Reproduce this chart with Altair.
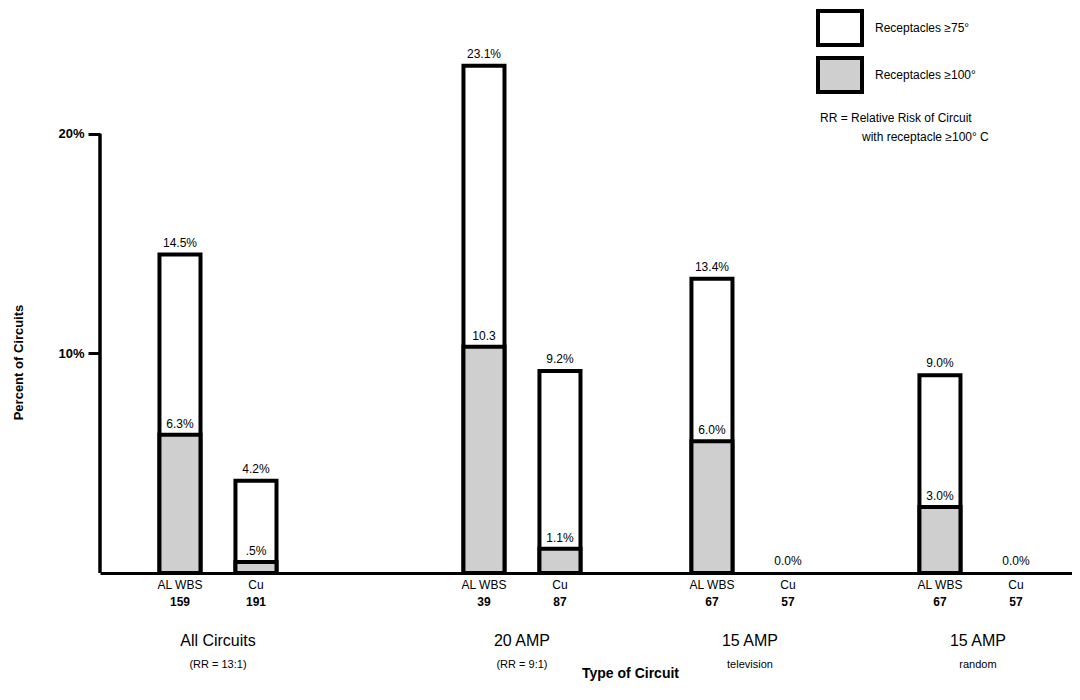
import altair as alt
import pandas as pd

# ---------------- data ----------------
groups = ["All Circuits", "All Circuits", "20 AMP", "20 AMP",
          "15 AMP television", "15 AMP television", "15 AMP random", "15 AMP random"]
conductors = ["AL WBS", "Cu", "AL WBS", "Cu", "AL WBS", "Cu", "AL WBS", "Cu"]
counts = ["159", "191", "39", "87", "67", "57", "67", "57"]
pct_75 = [14.5, 4.2, 23.1, 9.2, 13.4, 0.0, 9.0, 0.0]
pct_100 = [6.3, 0.5, 10.3, 1.1, 6.0, 0.0, 3.0, 0.0]
top_labels = ["14.5%", "4.2%", "23.1%", "9.2%", "13.4%", "0.0%", "9.0%", "0.0%"]
inner_labels = ["6.3%", ".5%", "10.3", "1.1%", "6.0%", "", "3.0%", ""]

group_keys = ["All Circuits", "20 AMP", "15 AMP television", "15 AMP random"]
group_names = ["All Circuits", "20 AMP", "15 AMP", "15 AMP"]
group_subs = ["(RR = 13:1)", "(RR = 9:1)", "television", "random"]

series_names = ["Receptacles \u226575\u00b0", "Receptacles \u2265100\u00b0"]
y_ticks = [10, 20]
y_axis_top = 20
rr_lines = ["RR = Relative Risk of Circuit", "with receptacle \u2265100\u00b0 C"]

# ---------------- tables ----------------
slots = [g + "|" + c for g, c in zip(groups, conductors)]
bar_df = pd.DataFrame({
    "slot": slots, "conductor": conductors, "count": counts,
    "pct75": pct_75, "pct100": pct_100,
    "top": top_labels, "inner": inner_labels,
})
long_rows = []
for s, a, b in zip(slots, pct_75, pct_100):
    long_rows.append({"slot": s, "series": series_names[0], "value": a, "ord": 0})
    long_rows.append({"slot": s, "series": series_names[1], "value": b, "ord": 1})
long_df = pd.DataFrame(long_rows)

group_df = pd.DataFrame({
    "slot": [k + "|AL WBS" for k in group_keys],
    "name": group_names, "sub": group_subs,
})
rule_df = pd.DataFrame({"lo": [0], "hi": [y_axis_top]})
rr_df = pd.DataFrame({"t": rr_lines})

# slot domain with empty spacer slots between groups (layout only)
slot_domain = [slots[0], slots[1], "_sp1", "_sp2", slots[2], slots[3], "_sp3",
               slots[4], slots[5], "_sp4", slots[6], slots[7]]

FONT = "Liberation Sans"

x_scale = alt.Scale(domain=slot_domain, paddingInner=0.46, paddingOuter=0.625, align=0.626)
y_scale = alt.Scale(domain=[0, 25], nice=False)

x_axis = alt.Axis(labels=False, ticks=False, domain=True, domainColor="black",
                  domainWidth=3, grid=False, title="Type of Circuit", titleX=530,
                  titleY=100, titleFontSize=14, titleFontWeight="bold",
                  titleBaseline="middle", titleColor="black", titleFont=FONT)
y_axis = alt.Axis(values=y_ticks, labelExpr="datum.value + '%'", tickSize=12,
                  tickWidth=3, tickColor="black", domain=False, grid=False,
                  labelFontSize=13, labelFontWeight="bold", labelColor="black",
                  labelPadding=4, labelFont=FONT,
                  title="Percent of Circuits", titleX=-82, titleY=338,
                  titleAngle=-90, titleBaseline="middle", titleFontSize=13,
                  titleFontWeight="bold", titleColor="black", titleFont=FONT)

X = alt.X("slot:N", scale=x_scale, axis=x_axis)

bars = alt.Chart(long_df).transform_filter("datum.value > 0").mark_bar(
    stroke="black", strokeWidth=4, strokeJoin="miter"
).encode(
    x=X,
    y=alt.Y("value:Q", scale=y_scale, axis=y_axis, stack=None),
    fill=alt.Fill("series:N", scale=alt.Scale(domain=series_names, range=["white", "#cfcfcf"]),
                  legend=alt.Legend(title=None, orient="none", legendX=718, legendY=-18,
                                    symbolType="M-1.1,-0.85H1.1V0.85H-1.1Z", symbolSize=1600,
                                    symbolStrokeColor="black", symbolStrokeWidth=4,
                                    labelFontSize=12, labelOffset=13, rowPadding=-5,
                                    padding=0, labelFont=FONT, labelColor="black",
                                    labelLimit=300)),
    order=alt.Order("ord:Q"),
)

txt = dict(font=FONT, color="black")

top_text = alt.Chart(bar_df).mark_text(baseline="bottom", dy=-5, fontSize=12, **txt).encode(
    x=X, y=alt.Y("pct75:Q", scale=y_scale), text="top:N")

inner_text = alt.Chart(bar_df).transform_filter("datum.inner != ''").mark_text(
    baseline="bottom", dy=-4, fontSize=12, **txt).encode(
    x=X, y=alt.Y("pct100:Q", scale=y_scale), text="inner:N")

cond_text = alt.Chart(bar_df).mark_text(baseline="top", dy=7, fontSize=12, **txt).encode(
    x=X, y=alt.datum(0), text="conductor:N")

count_text = alt.Chart(bar_df).mark_text(baseline="top", dy=24, fontSize=12,
                                         fontWeight="bold", **txt).encode(
    x=X, y=alt.datum(0), text="count:N")

group_text = alt.Chart(group_df).mark_text(baseline="middle", dx=38, dy=68, fontSize=16,
                                           **txt).encode(
    x=X, y=alt.datum(0), text="name:N")

sub_text = alt.Chart(group_df).mark_text(baseline="middle", dx=38, dy=92, fontSize=11,
                                         **txt).encode(
    x=X, y=alt.datum(0), text="sub:N")

y_rule = alt.Chart(rule_df).mark_rule(color="black", strokeWidth=3.5).encode(
    x=alt.value(0), y=alt.Y("lo:Q", scale=y_scale), y2="hi:Q")

rr1 = alt.Chart(rr_df).transform_filter(alt.datum.t == rr_lines[0]).mark_text(
    align="left", baseline="middle", fontSize=12, **txt).encode(
    x=alt.value(720), y=alt.value(94), text="t:N")
rr2 = alt.Chart(rr_df).transform_filter(alt.datum.t == rr_lines[1]).mark_text(
    align="left", baseline="middle", fontSize=12, **txt).encode(
    x=alt.value(762), y=alt.value(113), text="t:N")

chart = alt.layer(
    bars, y_rule, top_text, inner_text, cond_text, count_text, group_text, sub_text, rr1, rr2
).properties(
    width=972, height=549,
    autosize=alt.AutoSizeParams(type="none"),
    padding={"left": 92, "top": 16, "right": 0, "bottom": 110},
    background="white",
).configure(font=FONT).configure_view(strokeWidth=0, stroke="transparent")

chart.save("out.html", embed_options={"renderer": "svg", "actions": False})
